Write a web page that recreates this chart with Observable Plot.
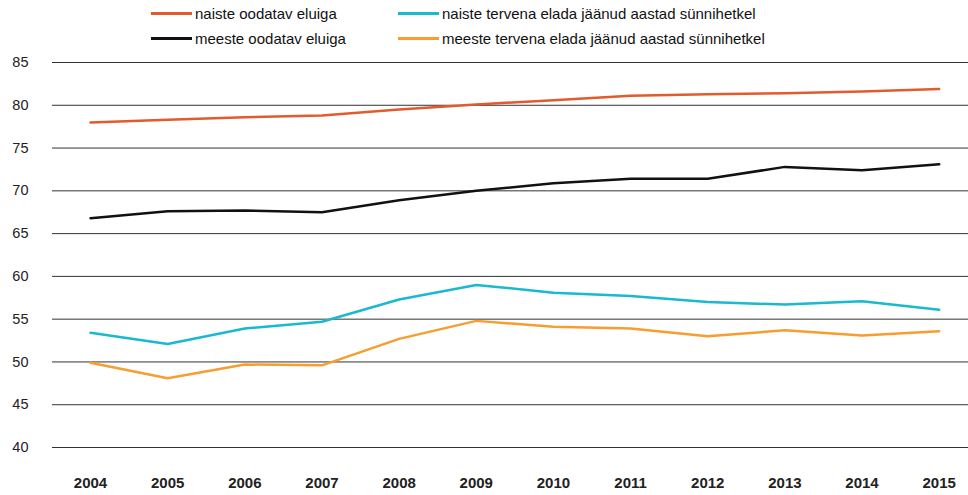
<!DOCTYPE html>
<html>
<head>
<meta charset="utf-8">
<script src="https://cdn.jsdelivr.net/npm/d3@7"></script>
<script src="https://cdn.jsdelivr.net/npm/@observablehq/plot@0.6"></script>
<style>
  html, body { margin: 0; padding: 0; background: #fff; }
  body { width: 968px; font-family: "Liberation Sans", Arial, Helvetica, sans-serif; }
  #legend { position: relative; height: 52px; font-size: 15px; color: #111; }
  .item { position: absolute; display: flex; align-items: center; white-space: nowrap; }
  .sw { width: 41px; height: 3px; margin-right: 3px; }
  #chart svg { display: block; }
</style>
</head>
<body>
<div id="legend"></div>
<div id="chart"></div>
<script>
const years = [2004, 2005, 2006, 2007, 2008, 2009, 2010, 2011, 2012, 2013, 2014, 2015];
const naisteOodatav = [78.0, 78.3, 78.6, 78.8, 79.5, 80.1, 80.6, 81.1, 81.3, 81.4, 81.6, 81.9];
const meesteOodatav = [66.8, 67.6, 67.7, 67.5, 68.9, 70.0, 70.9, 71.4, 71.4, 72.8, 72.4, 73.1];
const naisteTervena = [53.4, 52.1, 53.9, 54.7, 57.3, 59.0, 58.1, 57.7, 57.0, 56.7, 57.1, 56.1];
const meesteTervena = [49.9, 48.1, 49.7, 49.6, 52.7, 54.8, 54.1, 53.9, 53.0, 53.7, 53.1, 53.6];
const yTicks = [40, 45, 50, 55, 60, 65, 70, 75, 80, 85];

const seriesNames = [
  "naiste oodatav eluiga",
  "naiste tervena elada jäänud aastad sünnihetkel",
  "meeste oodatav eluiga",
  "meeste tervena elada jäänud aastad sünnihetkel"
];
const seriesColors = ["#e15b2b", "#19b9cf", "#111111", "#f89d30"];
const seriesValues = [naisteOodatav, naisteTervena, meesteOodatav, meesteTervena];

// legend
const legendPos = [[151, 14], [398, 14], [151, 39], [398, 39]];
const legend = document.getElementById("legend");
seriesNames.forEach((name, i) => {
  const d = document.createElement("div");
  d.className = "item";
  d.style.left = legendPos[i][0] + "px";
  d.style.top = (legendPos[i][1] - 9) + "px";
  d.innerHTML = `<span class="sw" style="background:${seriesColors[i]}"></span><span>${name}</span>`;
  legend.appendChild(d);
});

const data = [];
seriesNames.forEach((name, i) => {
  years.forEach((y, j) => data.push({series: name, year: y, value: seriesValues[i][j]}));
});

const chart = Plot.plot({
  width: 968,
  height: 443,
  marginTop: 10,
  marginBottom: 48,
  marginLeft: 52,
  marginRight: 0,
  style: {fontFamily: '"Liberation Sans", Arial, Helvetica, sans-serif', fontSize: "14px", color: "#222"},
  x: {domain: [2003.507, 2015.38], label: null},
  y: {domain: [40, 85], label: null},
  color: {domain: seriesNames, range: seriesColors},
  marks: [
    Plot.ruleY(yTicks, {stroke: "#333", strokeWidth: 1}),
    Plot.axisY(yTicks, {tickSize: 0, tickPadding: 24, fontSize: 14.5, label: null}),
    Plot.axisX(years, {tickSize: 0, tickPadding: 30, tickFormat: "d", fontSize: 15, fontWeight: "bold", label: null}),
    Plot.line(data, {x: "year", y: "value", z: "series", stroke: "series", strokeWidth: 2.5, strokeLinejoin: "round"})
  ]
});
document.getElementById("chart").appendChild(chart);
</script>
</body>
</html>
